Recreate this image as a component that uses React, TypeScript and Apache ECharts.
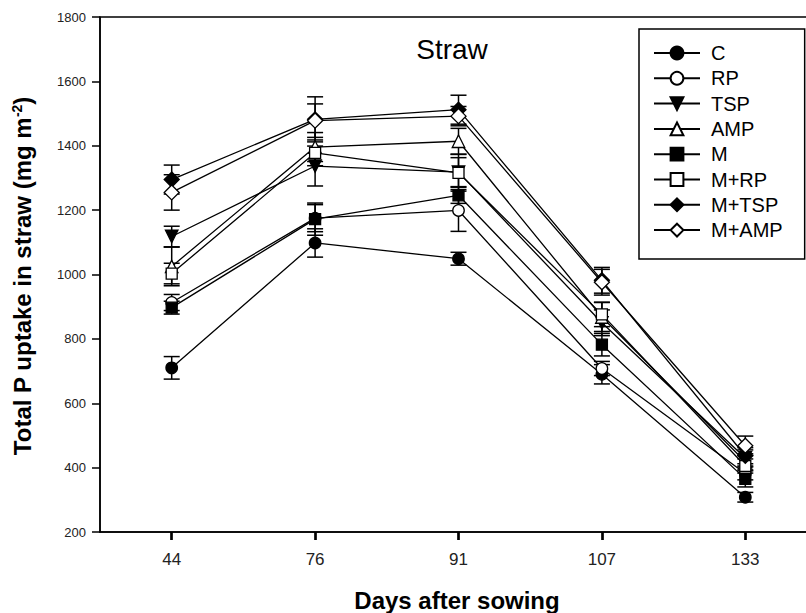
import React, { useEffect, useRef } from 'react';
import * as echarts from 'echarts';

// ---- data ----
const days = ['44', '76', '91', '107', '133'];
const seriesNames = ['C', 'RP', 'TSP', 'AMP', 'M', 'M+RP', 'M+TSP', 'M+AMP'];

const valC = [710, 1098, 1049, 690, 308];
const valRP = [913, 1175, 1199, 708, 382];
const valTSP = [1118, 1337, 1318, 850, 430];
const valAMP = [1025, 1396, 1414, 868, 418];
const valM = [897, 1172, 1246, 782, 365];
const valMRP = [1003, 1378, 1316, 876, 405];
const valMTSP = [1295, 1482, 1512, 982, 437];
const valMAMP = [1255, 1478, 1492, 976, 468];

const errC = [35, 44, 20, 30, 15];
const errRP = [25, 42, 65, 22, 20];
const errTSP = [32, 62, 45, 40, 25];
const errAMP = [60, 45, 40, 45, 25];
const errM = [20, 50, 25, 35, 25];
const errMRP = [32, 40, 57, 38, 22];
const errMTSP = [45, 70, 45, 40, 25];
const errMAMP = [55, 52, 30, 40, 30];

const yTicks = { min: 200, max: 1800, interval: 200 };

const allValues = [valC, valRP, valTSP, valAMP, valM, valMRP, valMTSP, valMAMP];
const allErrors = [errC, errRP, errTSP, errAMP, errM, errMRP, errMTSP, errMAMP];

// ---- styles ----
const FONT = '"Liberation Sans", Arial, Helvetica, sans-serif';
const symbols = ['circle', 'circle', 'triangle', 'triangle', 'rect', 'rect', 'diamond', 'diamond'];
const symbolSizes = [11.5, 11.5, 12.5, 12.5, 11, 11, 15, 15];
const symbolRotates = [0, 0, 180, 0, 0, 0, 0, 0];
const filled = [true, false, true, false, true, false, true, false];

export default function App() {
  const ref = useRef<HTMLDivElement>(null);

  useEffect(() => {
    if (!ref.current) return;
    const chart = echarts.init(ref.current, null, { renderer: 'svg' });

    const lineSeries = seriesNames.map((name, s) => ({
      name,
      type: 'line',
      data: allValues[s],
      symbol: symbols[s],
      symbolSize: symbolSizes[s],
      symbolRotate: symbolRotates[s],
      lineStyle: { color: '#000', width: 1.3 },
      itemStyle: {
        color: filled[s] ? '#000' : '#fff',
        borderColor: '#000',
        borderWidth: 1.3,
      },
      z: 3,
      silent: true,
      emphasis: { disabled: true },
    }));

    const errData: number[][] = [];
    allValues.forEach((vals, s) => {
      vals.forEach((v, i) => {
        const e = allErrors[s][i];
        errData.push([i, v - e, v + e]);
      });
    });

    const errorSeries = {
      type: 'custom',
      name: 'err',
      z: 1,
      silent: true,
      encode: { x: 0, y: [1, 2] },
      data: errData,
      renderItem: (params: any, api: any) => {
        const x = api.value(0);
        const lo = api.coord([x, api.value(1)]);
        const hi = api.coord([x, api.value(2)]);
        const w = 8;
        const st = { stroke: '#000', lineWidth: 1.5 };
        return {
          type: 'group',
          children: [
            { type: 'line', shape: { x1: hi[0], y1: hi[1], x2: lo[0], y2: lo[1] }, style: st },
            { type: 'line', shape: { x1: hi[0] - w, y1: hi[1], x2: hi[0] + w, y2: hi[1] }, style: st },
            { type: 'line', shape: { x1: lo[0] - w, y1: lo[1], x2: lo[0] + w, y2: lo[1] }, style: st },
          ],
        };
      },
    };

    chart.setOption({
      animation: false,
      backgroundColor: '#fff',
      textStyle: { fontFamily: FONT },
      grid: {
        left: 100,
        top: 17,
        width: 717,
        height: 515,
        show: true,
        borderColor: '#000',
        borderWidth: 1.5,
        containLabel: false,
        outerBoundsMode: 'none',
      },
      xAxis: {
        type: 'category',
        data: days,
        boundaryGap: true,
        axisLine: { show: true, lineStyle: { color: '#000', width: 1.5 } },
        axisTick: { show: true, alignWithLabel: true, length: 8, lineStyle: { color: '#000', width: 2.7 } },
        axisLabel: { fontSize: 17, color: '#222', margin: 19, fontFamily: FONT },
        splitLine: { show: false },
      },
      yAxis: {
        type: 'value',
        min: yTicks.min,
        max: yTicks.max,
        interval: yTicks.interval,
        axisLine: { show: true, lineStyle: { color: '#000', width: 1.5 } },
        axisTick: { show: true, length: 8, lineStyle: { color: '#000', width: 1.5 } },
        axisLabel: {
          fontSize: 13,
          color: '#222',
          margin: 14,
          fontFamily: FONT,
          formatter: (v: number) => String(v),
        },
        splitLine: { show: false },
      },
      legend: {
        orient: 'vertical',
        left: 639,
        top: 29,
        data: seriesNames,
        itemWidth: 46,
        itemHeight: 16,
        itemGap: 5.3,
        padding: [14, 22, 19, 14],
        borderColor: '#000',
        borderWidth: 1.5,
        selectedMode: false,
        textStyle: { fontSize: 20, color: '#000', fontFamily: FONT, padding: [0, 0, 0, 6] },
      },
      graphic: [
        {
          type: 'text',
          x: 452,
          y: 49,
          style: {
            text: 'Straw',
            fontSize: 28,
            fontFamily: FONT,
            fill: '#000',
            align: 'center',
            verticalAlign: 'middle',
          },
        },
        {
          type: 'text',
          x: 457,
          y: 600,
          style: {
            text: 'Days after sowing',
            fontSize: 24,
            fontWeight: 'bold',
            fontFamily: FONT,
            fill: '#000',
            align: 'center',
            verticalAlign: 'middle',
          },
        },
        {
          type: 'text',
          x: 22,
          y: 276,
          rotation: Math.PI / 2,
          style: {
            text: 'Total P uptake in straw (mg m{sup|-2})',
            fontSize: 24,
            fontWeight: 'bold',
            fontFamily: FONT,
            fill: '#000',
            align: 'center',
            verticalAlign: 'middle',
            rich: {
              sup: {
                fontSize: 14,
                fontWeight: 'bold',
                fontFamily: FONT,
                fill: '#000',
                verticalAlign: 'top',
                lineHeight: 10,
              },
            },
          },
        },
      ],
      series: [errorSeries, ...lineSeries],
    });

    return () => chart.dispose();
  }, []);

  return (
    <div
      ref={ref}
      style={{ position: 'fixed', left: 0, top: 0, width: 806, height: 613, background: '#fff' }}
    />
  );
}
